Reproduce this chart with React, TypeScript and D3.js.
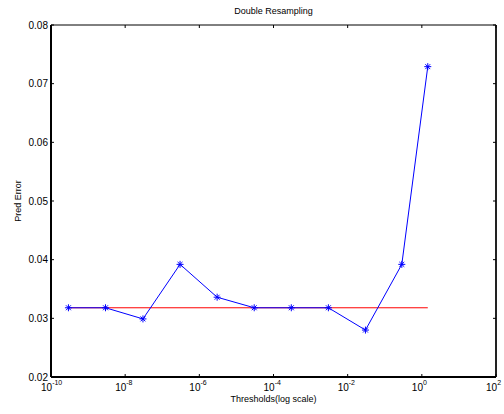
import React, { useEffect, useRef } from 'react';
import * as d3 from 'd3';

// thresholds (log10) and prediction errors
const logThresholds = [-9.53, -8.53, -7.52, -6.52, -5.52, -4.52, -3.52, -2.52, -1.52, -0.54, 0.16];
const predErrors = [0.0318, 0.0318, 0.0299, 0.0392, 0.0336, 0.0318, 0.0318, 0.0318, 0.0280, 0.0392, 0.0729];
const baseline = 0.0318;
const xTickExps = [-10, -8, -6, -4, -2, 0, 2];
const yTicks = [0.02, 0.03, 0.04, 0.05, 0.06, 0.07, 0.08];

const W = 504;
const H = 414;
const m = { left: 51, right: 8, top: 25, bottom: 37 };

export default function App() {
  const ref = useRef<SVGSVGElement>(null);

  useEffect(() => {
    const svg = d3.select(ref.current);
    svg.selectAll('*').remove();

    const x = d3.scaleLog().domain([1e-10, 1e2]).range([m.left, W - m.right]);
    const y = d3.scaleLinear().domain([0.02, 0.08]).range([H - m.bottom, m.top]);
    const font = 'Liberation Sans, Arial, sans-serif';

    const pts = logThresholds.map((l, i) => ({ t: Math.pow(10, l), v: predErrors[i] }));

    // baseline
    svg.append('line')
      .attr('x1', x(pts[0].t)).attr('x2', x(pts[pts.length - 1].t))
      .attr('y1', y(baseline)).attr('y2', y(baseline))
      .attr('stroke', '#ff0000').attr('stroke-width', 1);

    const line = d3.line<any>().x(d => x(d.t)).y(d => y(d.v));
    svg.append('path').datum(pts)
      .attr('d', line)
      .attr('fill', 'none')
      .attr('stroke', '#0000ff')
      .attr('stroke-width', 1);

    // asterisk markers
    const s = 3.5;
    const mk = svg.selectAll('g.mk').data(pts).enter().append('g')
      .attr('transform', d => `translate(${x(d.t)},${y(d.v)})`)
      .attr('stroke', '#0000ff').attr('stroke-width', 1);
    mk.append('line').attr('x1', -s).attr('x2', s).attr('y1', 0).attr('y2', 0);
    mk.append('line').attr('x1', 0).attr('x2', 0).attr('y1', -s).attr('y2', s);
    mk.append('line').attr('x1', -s * 0.7).attr('x2', s * 0.7).attr('y1', -s * 0.7).attr('y2', s * 0.7);
    mk.append('line').attr('x1', -s * 0.7).attr('x2', s * 0.7).attr('y1', s * 0.7).attr('y2', -s * 0.7);

    const x0 = m.left, x1 = W - m.right, y0 = H - m.bottom, y1 = m.top;

    // box
    svg.append('line').attr('x1', x0).attr('x2', x1).attr('y1', y1).attr('y2', y1)
      .attr('stroke', '#000').attr('stroke-width', 1);
    svg.append('line').attr('x1', x1).attr('x2', x1).attr('y1', y1).attr('y2', y0)
      .attr('stroke', '#222').attr('stroke-width', 2);
    svg.append('line').attr('x1', x0).attr('x2', x1).attr('y1', y0).attr('y2', y0)
      .attr('stroke', '#000').attr('stroke-width', 2);
    svg.append('line').attr('x1', x0).attr('x2', x0).attr('y1', y1).attr('y2', y0)
      .attr('stroke', '#000').attr('stroke-width', 2);

    // ticks
    const tl = 3;
    yTicks.forEach(v => {
      svg.append('line').attr('x1', x0).attr('x2', x0 + tl).attr('y1', y(v)).attr('y2', y(v)).attr('stroke', '#000');
      svg.append('line').attr('x1', x1).attr('x2', x1 - tl).attr('y1', y(v)).attr('y2', y(v)).attr('stroke', '#000');
      svg.append('text').attr('x', x0 - 3).attr('y', y(v) + 3.5)
        .attr('text-anchor', 'end').attr('font-family', font).attr('font-size', 10)
        .text(v.toFixed(2));
    });
    xTickExps.forEach(e => {
      const px = x(Math.pow(10, e));
      svg.append('line').attr('x1', px).attr('x2', px).attr('y1', y0).attr('y2', y0 - tl).attr('stroke', '#000');
      svg.append('line').attr('x1', px).attr('x2', px).attr('y1', y1).attr('y2', y1 + tl).attr('stroke', '#000');
      const t = svg.append('text').attr('x', px - 10).attr('y', y0 + 14)
        .attr('font-family', font).attr('font-size', 10);
      t.append('tspan').text('10');
      t.append('tspan').attr('dy', -6).attr('font-size', 7).text(String(e));
    });

    svg.append('text').attr('x', (x0 + x1) / 2).attr('y', 14)
      .attr('text-anchor', 'middle').attr('font-family', font).attr('font-size', 9)
      .text('Double Resampling');
    svg.append('text').attr('x', (x0 + x1) / 2).attr('y', H - 12)
      .attr('text-anchor', 'middle').attr('font-family', font).attr('font-size', 9)
      .text('Thresholds(log scale)');
    svg.append('text')
      .attr('transform', `translate(21,${(y0 + y1) / 2}) rotate(-90)`)
      .attr('text-anchor', 'middle').attr('font-family', font).attr('font-size', 9)
      .text('Pred Error');
  }, []);

  return (
    <svg ref={ref} width={W} height={H}
      style={{ position: 'absolute', left: 0, top: 0, background: '#fff' }} />
  );
}
